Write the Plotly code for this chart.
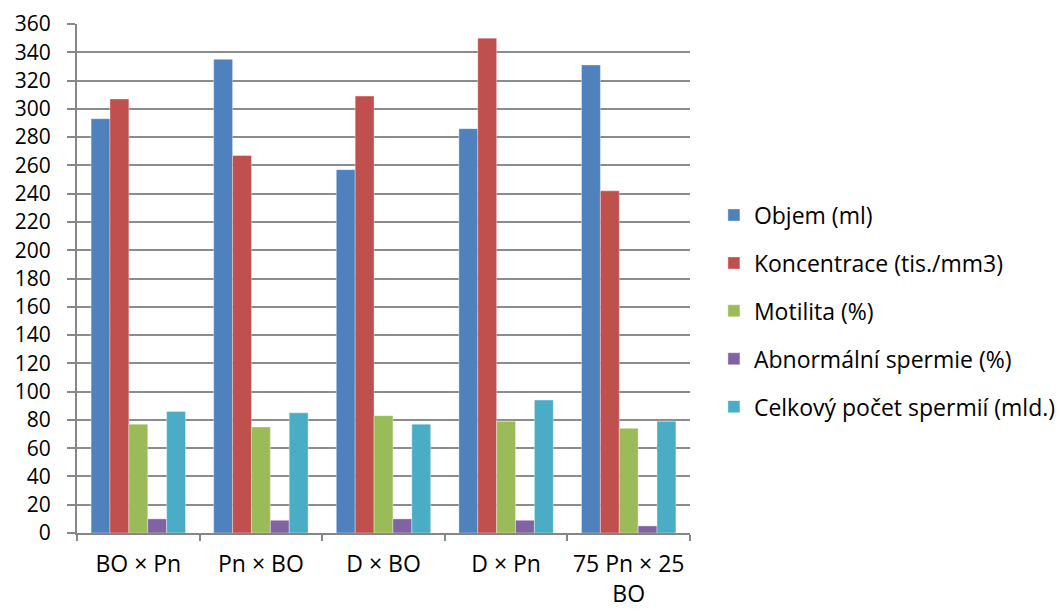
import plotly.graph_objects as go

categories = ["BO × Pn", "Pn × BO", "D × BO", "D × Pn", "75 Pn × 25<br>BO"]
objem = [293, 335, 257, 286, 331]
koncentrace = [307, 267, 309, 350, 242]
motilita = [77, 75, 83, 79, 74]
abnormalni = [10, 9, 10, 9, 5]
celkovy = [86, 85, 77, 94, 79]

series_names = ["Objem (ml)", "Koncentrace (tis./mm3)", "Motilita (%)",
                "Abnormální spermie (%)", "Celkový počet spermií (mld.)"]
series_values = [objem, koncentrace, motilita, abnormalni, celkovy]
colors = ["#4F81BD", "#C0504D", "#9BBB59", "#8064A2", "#4BACC6"]

fig = go.Figure()
for i, (name, vals, col) in enumerate(zip(series_names, series_values, colors)):
    fig.add_trace(go.Bar(
        x=categories, y=vals, name=name, legendgroup=f"g{i}",
        marker=dict(color=col, line=dict(color="rgba(255,255,255,0.35)", width=1)),
    ))

font_family = "Open Sans, Noto Sans, sans-serif"
fig.update_layout(
    width=1055, height=602,
    margin=dict(l=69, r=373, t=16, b=77, autoexpand=False),
    paper_bgcolor="white", plot_bgcolor="white",
    barmode="group", bargap=0.23, bargroupgap=0,
    font=dict(family=font_family, size=23, color="black"),
    showlegend=True,
    legend=dict(x=1.039, y=0.436, xanchor="left", yanchor="middle",
                font=dict(size=23), tracegroupgap=15, traceorder="grouped",
                itemwidth=30),
    xaxis=dict(showline=True, linecolor="#868686", linewidth=2,
               ticks="outside", ticklen=6, tickcolor="#868686", tickwidth=2,
               tickson="boundaries", showgrid=False, ticklabelstandoff=9,
               automargin=False, tickfont=dict(size=23)),
    yaxis=dict(range=[0, 360], dtick=20, showline=True, linecolor="#868686",
               linewidth=2, ticks="outside", ticklen=8, tickcolor="#868686",
               tickwidth=1.5, showgrid=True, gridcolor="#8C8C8C", gridwidth=1.5,
               zeroline=False, ticklabelstandoff=12, automargin=False,
               tickfont=dict(size=21)),
)

fig.write_html("out.html")
